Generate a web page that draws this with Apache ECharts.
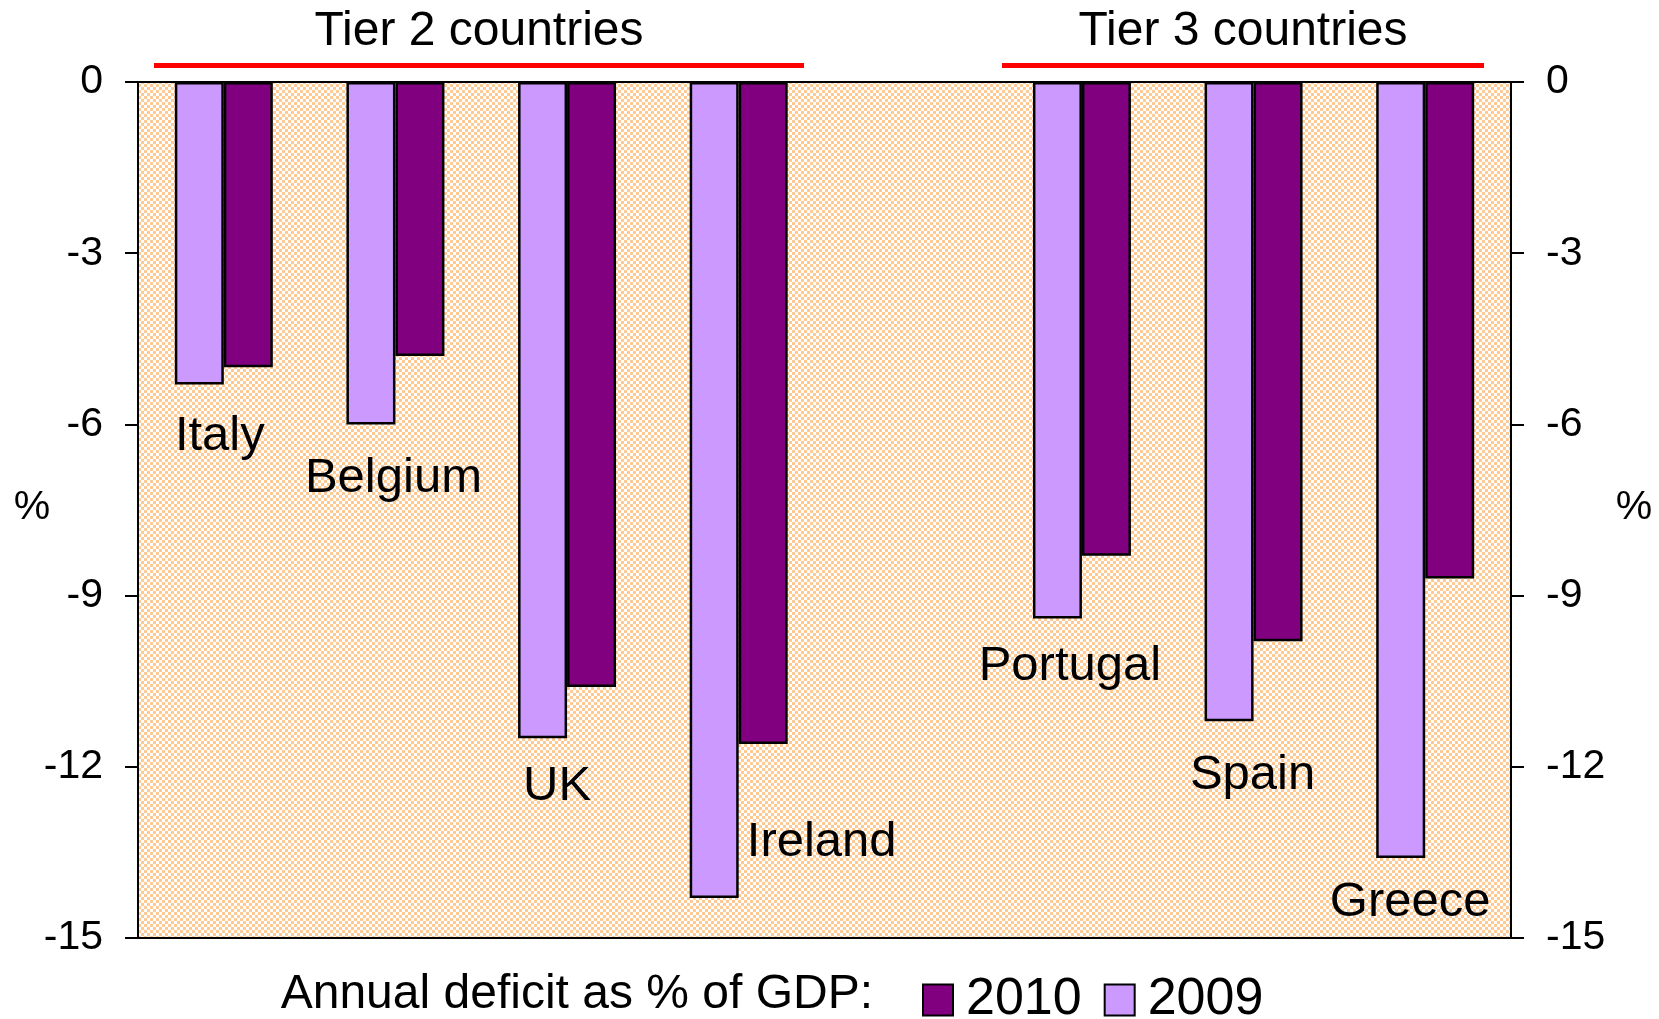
<!DOCTYPE html>
<html>
<head>
<meta charset="utf-8">
<script src="https://cdn.jsdelivr.net/npm/echarts@6/dist/echarts.min.js"></script>
<style>
  html, body { margin: 0; padding: 0; background: #ffffff; }
  #chart { width: 1659px; height: 1019px; }
</style>
</head>
<body>
<div id="chart"></div>
<script>
// ---- data ----
var categories = ['Italy', 'Belgium', 'UK', 'Ireland', '', 'Portugal', 'Spain', 'Greece'];
var deficit2009 = [-5.3, -6.0, -11.5, -14.3, null, -9.4, -11.2, -13.6];
var deficit2010 = [-5.0, -4.8, -10.6, -11.6, null, -8.3, -9.8, -8.7];
var yTicks = [0, -3, -6, -9, -12, -15];
var groupTitles = ['Tier 2 countries', 'Tier 3 countries'];
var legendCaption = 'Annual deficit as % of GDP:';

// label anchors (value on y axis where each country name sits) and x nudges in px
var labelAnchorY = [-6.21, -6.94, -12.34, -13.32, null, -10.24, -12.16, -14.38];
var labelNudgeX = [-4, -2, -10, 83, 0, -12, -1, -15];

var FONT = "'Liberation Sans', Arial, sans-serif";

// checkerboard pattern for plot background
var cell = 3;
var pc = document.createElement('canvas');
pc.width = cell * 2; pc.height = cell * 2;
var pctx = pc.getContext('2d');
pctx.fillStyle = '#ffffff'; pctx.fillRect(0, 0, cell * 2, cell * 2);
pctx.fillStyle = '#FFC993';
pctx.fillRect(0, 0, cell, cell); pctx.fillRect(cell, cell, cell, cell);

var labelData = categories.map(function (c, i) {
  return labelAnchorY[i] == null ? null : {
    value: [c, labelAnchorY[i]],
    label: { offset: [labelNudgeX[i], 0] }
  };
}).filter(function (d) { return d; });

var chart = echarts.init(document.getElementById('chart'), null, { renderer: 'canvas' });

var yAxisCommon = {
  type: 'value', min: -15, max: 0, interval: 3,
  axisLine: { show: true, lineStyle: { color: '#000', width: 2 } },
  axisTick: { show: true, inside: false, length: 13, lineStyle: { color: '#000', width: 2 } },
  axisLabel: { color: '#000', fontSize: 41, fontFamily: FONT, margin: 35 },
  splitLine: { show: false }
};

chart.setOption({
  animation: false,
  backgroundColor: '#ffffff',
  grid: {
    left: 138, right: 148, top: 82, bottom: 81,
    show: true,
    backgroundColor: { image: pc, repeat: 'repeat' },
    borderColor: '#000', borderWidth: 2
  },
  xAxis: {
    type: 'category', data: categories,
    axisLine: { show: true, onZero: true, lineStyle: { color: '#000', width: 2 } },
    axisTick: { show: false },
    axisLabel: { show: false },
    splitLine: { show: false }
  },
  yAxis: [
    Object.assign({}, yAxisCommon, { position: 'left' }),
    Object.assign({}, yAxisCommon, { position: 'right' })
  ],
  legend: {
    data: ['2010', '2009'],
    left: 922, top: 974,
    padding: 0,
    itemWidth: 30, itemHeight: 31, itemGap: 22,
    icon: 'rect',
    textStyle: { color: '#000', fontSize: 52, fontFamily: FONT, padding: [0, 0, 0, 8] }
  },
  series: [
    {
      name: '2009', type: 'bar', data: deficit2009,
      barWidth: 49, barGap: '0%',
      itemStyle: { color: '#CC99FF', borderColor: '#000', borderWidth: 2.5 }
    },
    {
      name: '2010', type: 'bar', data: deficit2010,
      barWidth: 49, barGap: '0%',
      itemStyle: { color: '#800080', borderColor: '#000', borderWidth: 2.5 }
    },
    {
      name: 'labels', type: 'scatter', data: labelData,
      symbolSize: 0, silent: true,
      itemStyle: { opacity: 1 },
      label: {
        show: true, position: 'inside',
        formatter: function (p) { return p.value[0]; },
        color: '#000', opacity: 1, fontSize: 49, fontFamily: FONT
      }
    }
  ],
  graphic: [
    {
      type: 'text', x: 479, y: 32,
      style: { text: groupTitles[0], font: '48px ' + FONT, fill: '#000', textAlign: 'center', textVerticalAlign: 'middle' }
    },
    {
      type: 'text', x: 1243, y: 32,
      style: { text: groupTitles[1], font: '48px ' + FONT, fill: '#000', textAlign: 'center', textVerticalAlign: 'middle' }
    },
    { type: 'line', shape: { x1: 154, y1: 65.5, x2: 804, y2: 65.5 }, style: { stroke: '#FF0000', lineWidth: 5 } },
    { type: 'line', shape: { x1: 1002, y1: 65.5, x2: 1484, y2: 65.5 }, style: { stroke: '#FF0000', lineWidth: 5 } },
    {
      type: 'text', x: 32, y: 508,
      style: { text: '%', font: '41px ' + FONT, fill: '#000', textAlign: 'center', textVerticalAlign: 'middle' }
    },
    {
      type: 'text', x: 1634, y: 508,
      style: { text: '%', font: '41px ' + FONT, fill: '#000', textAlign: 'center', textVerticalAlign: 'middle' }
    },
    {
      type: 'text', x: 873, y: 995,
      style: { text: legendCaption, font: '48px ' + FONT, fill: '#000', textAlign: 'right', textVerticalAlign: 'middle' }
    }
  ]
});
</script>
</body>
</html>
